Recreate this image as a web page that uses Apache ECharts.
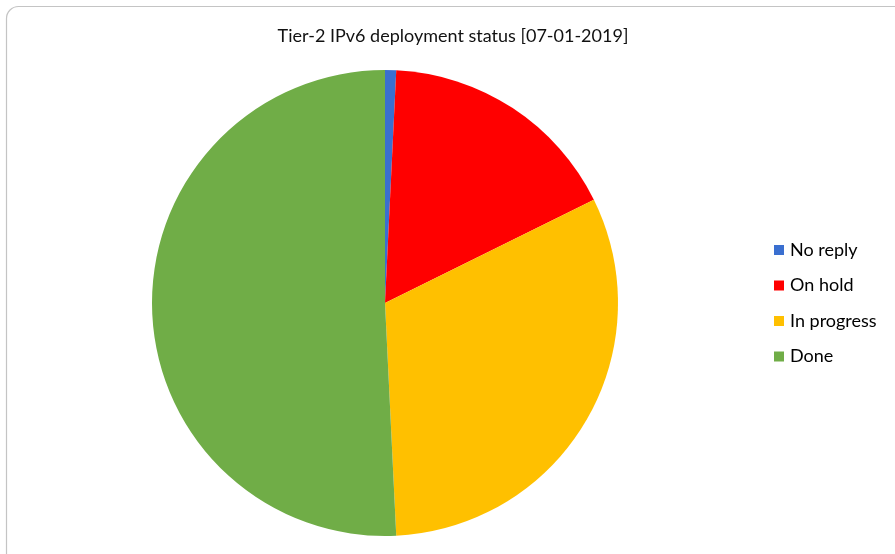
<!DOCTYPE html>
<html>
<head>
<meta charset="utf-8">
<script src="https://cdn.jsdelivr.net/npm/echarts@6/dist/echarts.min.js"></script>
<style>
  html, body { margin: 0; padding: 0; background: #fff; overflow: hidden; }
  #main { width: 895px; height: 554px; }
</style>
</head>
<body>
<div id="main"></div>
<script>
var statusNames = ['No reply', 'On hold', 'In progress', 'Done'];
var siteCounts = [1, 22, 41, 66];
var sliceColors = ['#3A6FD0', '#FF0000', '#FFC000', '#70AD47'];

var myChart = echarts.init(document.getElementById('main'));

var pieData = [];
for (let i = 0; i < statusNames.length; i++) {
  pieData.push({ value: siteCounts[i], name: statusNames[i] });
}

var option = {
  backgroundColor: '#FFFFFF',
  color: sliceColors,
  animation: false,
  title: {
    text: 'Tier-2 IPv6 deployment status [07-01-2019]',
    left: 448,
    top: 22,
    textAlign: 'center',
    textStyle: {
      color: '#111',
      fontSize: 18,
      fontWeight: 'normal',
      fontFamily: 'Lato'
    }
  },
  legend: {
    orient: 'vertical',
    left: 769,
    top: 236,
    itemWidth: 10,
    itemHeight: 10,
    itemGap: 17.5,
    icon: 'rect',
    textStyle: {
      color: '#000',
      fontSize: 18,
      fontFamily: 'Lato',
      padding: [0, 0, 0, 1]
    },
    data: statusNames
  },
  graphic: [
    {
      type: 'rect',
      shape: { x: 6.5, y: 6.5, width: 900, height: 560, r: 12 },
      style: { fill: 'none', stroke: '#c4c4c4', lineWidth: 1.2 },
      silent: true
    }
  ],
  series: [
    {
      name: 'status',
      type: 'pie',
      center: [385, 303],
      radius: [0, 233],
      startAngle: 90,
      clockwise: true,
      label: { show: false },
      labelLine: { show: false },
      itemStyle: { borderWidth: 0 },
      data: pieData
    }
  ]
};

option && myChart.setOption(option);
</script>
</body>
</html>
